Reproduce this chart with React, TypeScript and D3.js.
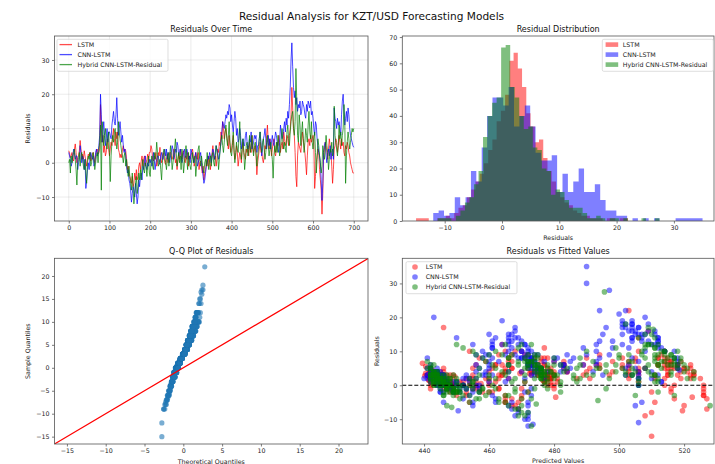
import React, { useEffect, useRef } from "react";
import * as d3 from "d3";

// time index of the residual series (every 2nd step of the 700-step test set)
const timeIndex = d3.range(0, 701, 2);

const lstmResid = [
  3.5, 2.8, 1.5, 2, 3, 1, 0.5, 4, 5.5, 3, 0, 1.5, 2, 3.5, 6.5, 4, 1, 2.5, 1, 3.5, 2, 0.5, -1, 1, 2.5,
  2, 3, 0.5, 1, 2.5, 3, 1.5, 0, 2, 3.5, 4, 2.5, 3, 4, 17, 10, 6, 8, 3, 5, 2, 3, 6, 7, 4,
  2, 4, 6, 5, 8, 10, 7, 5, 9, 7, 9, 4, 3, 1.5, 2.5, 1.5, 4, 5, 3.5, 4, 3.5, 1, -2, -1, -3,
  -4, -5, -6, -4, -7, -6, -3, -5, -2, -5, -4, -1, 0, -2, 0.5, 2, -1, 1, 2, -1, 0, 1, 2.5, 0, 3,
  3, 5, 4, 1, 0.5, 2, 1, 3, -1, 0, 3, 2, 4.5, 1, 0, 2, 3, 2, 0, -0.5, 1, 2.5, 0, 1.5, 3,
  3, 1.5, 1, 2, 4, 3, 0, 1, -2, 0.5, 2.5, 1, 4, 2, 1, 3, 3.5, 1, 0, 2, 1, 3, -1, 2, 1,
  2, 3, 4, 2, -1, 0, 3, 1.5, 1, 3, -2, 0, 0.5, -1, -3, -1, -5, -3, -2, 0, 1, -1, 2, 0, -2,
  1, 3, 5, 2, 1, 2, -1, 1, 4, 3, 6, 5, 9, 7, 12, 10, 7, 9, 10, 8, 6, 4, 8, 5, 3,
  4, 6, 8, 3, 1, 2, 5, 3, -1, 1, 3, 2, 0, 4, 6, 3, 2, 1, 4, 3, 5, 2, 6, 4, 3,
  8, 5, 3, 4, 5, 2, -3.5, 0, 2, 4, 6, 3, 3, 1, 0, 2, 5, 4, 8, 11, 6, 4, 7, 5, 2,
  4, 6, 7, 3, 2, 4, 6, 5, 8, 6, 3, 5, 6, 4, 9, 7, 5, 6, 8, 7, 5, 8, 10, 14, 22,
  16, 10, 8, 3, -4, -7, 2, 6, 5, 4, 3, 6, 9, 7, 5, 3, 0, -3.5, 2, 6, 7, 5, 8, 6, 7,
  8, 6, -7.5, -4, 0, 2, 4, 3, -2, -5, -8, -15, -9, 2, 4, 6, 5, 3, 1, 4, 7, 5, 3, -1, -6,
  -2, 4, 5, 7, 6, 3, 5, 8, 6, 4, 7, 5, 6, 3, 2, 5, 4, 6, 5, 3, 2, 0, -1, -2, -3,
  -3,
];

const cnnResid = [
  3, 2, 1, -1, 0, 2, 4, 3, 1, 2, 2, -2, 0, 1, 5, 3, 0, 2, 1, -2, 1, -7.5, -5, -2, 0,
  -2, 1, 3, 2, 1, 2, -1, 0, 3, 4, 2, 3, 5, 8, 20, 14, 6, 9, 12, 8, 5, 7, 10, 6, 9,
  9, 8, 7, 11, 13, 15, 12, 11, 14, 19, 13, 8, 10, 12, 9, 6, 8, 5, 3, 4, 2, -1, -3, -2, -5,
  -6, -8, -11.5, -9, -7, -8, -10, -6, -9, -12, -10, -5, -7, -4, -3, -5, -1, -2, 0, 2, -1, -2, 0, -1, 1,
  0, 1, -1, 0, 3, 1, -2, 0, 1, 2, 2, 0, -0.5, 2, 3, 1, 1, 3, 4, 2, 4, 1, 3, 2, 0,
  2, 3, 5, 4, 1, 2, 4, 3, 6, 5, 2, 3, 4, 2, 0, 1, 3, 4, 1.5, 2, 4, 3, 1, 2, 0,
  4, 3, 2, 1, 0, 2, 3, 1, -1, 0, 1, 2, 3, 0, -2, -4, -6, -5, -3, -1, 0, 2, 1, 3, 2,
  0, 2, 4, 3, 1, 3, 5, 4, 3, 1, 2, 4, 6, 9, 12, 11, 10, 12, 14, 13, 15, 14, 17, 16, 12,
  14, 11, 9, 12, 15, 13, 8, 10, 6, 7, 10, 8, 4, 6, 7, 5, 5, 8, 9, 6, 4, 5, 7, 6, 9,
  4, 5, 6, 8, 7, 8, 3, 5, 5, 7, 9, 6, 2, 4, 7, 8, 10, 7, 4, 6, 8, 5, 7, 4, 6,
  8, 6, 5, 7, 9, 8, 6, 4, 3, 6, 11, 9, 7, 8, 10, 12, 9, 13, 11, 15, 13, 17, 22, 30, 35,
  28, 22, 19, 21, 17, 19, 15, 17, 16, 18, 14, 15, 18, 17, 16, 14, 13, 17, 15, 18, 17, 16, 18, 14, 15,
  13, 10, 8, 12, 11, 7, 5, 3, 2, 0, -5, -11, -6, 3, 5, 6, 2, 0, 3, 4, 2, 5, 1, 3, 4,
  1, 16, 13, 12, 10, 13, 11, 12, 10, 8, 14, 18, 20, 15, 11, 13, 15, 12, 16, 14, 10, 8, 7, 6, 5,
  4.5,
];

const hybridResid = [
  0, 1, -3, 2, 0, 2, 3, 4, 1, -2, -6.5, 0, 1, 3, -1, 2, 3, 1, -1, -2, 1, -3, -6, 0, 2,
  1, 3, -1, 0, 2, 3, 1, -2, 0, 2, 3, 0, 4, 6, 11, -8, 12, 9, 5, 8, 10, 6, 4, 7, 9,
  3, -5.5, 2, 6, 8, 6, 9, 10, 7, 4, 6, 12, 9, 7, 5, 3, 2, 0, 2, 3, -1, 1, -2, -4, -1,
  -4, -6, -8, -3, -7, -12, -9, -6, -4, -9, -7, -3, -5, -2, -5, -1, 1, -2, -3, 0, -1, -4, 0, 2, -3,
  -4, 0, 2, -1, -2, 3, 1, 2, 6, 3, -1, 0, 1, -2, -5, 0, 3, 4, 2, 0, -2, 1, 3, -1, 2,
  5, 2, -2, 0, 2, 4, 7, 3, -1, 1, 3, 0, 2, -2, 4, 1, -3, 0, 2, 5, 1, -2, 3, 0, -1,
  -2, 1, 3, 0, 1, 2, -4, -1, 2, 4, 5, 1, -1, 2, 0, -2, -3, 0, 1, -1, 3, 0, -2, 1, 2,
  -1, 2, 3, 0, -1, 2, 5, 3, 2, -2, 1, 4, 6, 8, 5, 3, 6, 9, 11, 7, 5, 8, 12, 6, 3,
  2, 5, 9, 4, 0, 3, 6, 4, 3, 7, 12, 5, 1, 4, 7, 3, -2, 1, 5, 6, 2, 4, 8, 3, 5,
  8, 4, 2, 5, 6, 3, -1, 2, 4, 7, 9, 5, 3, 6, 7, 4, 1, 3, 6, 8, 5, 2, 4, 6, 3,
  1, -4.5, 2, 5, 3, 6, 3, 8, 5, 2, 4, 7, 10, 6, 4, 6, 4, 3, 9, 11, 7, 5, 9, 12, 14,
  15, 10, 8, 12, 27.5, 18, 8, 6, 14, 11, 5, 9, 12, 7, 3, 6, 10, 8, 6, 11, 15, 9, 7, 12, 6,
  4, 7, 9, 3, -3, 1, 7, 5, 2, 0, -3, -1, 5, 3, 1, 4, 8, 5, 3, -2, 1, 4, 3, 6, 2,
  3, 16.5, 8, 6, 4, 2, 5, 11, 7, 9, 5, 8, 10, 17, 12, -6, 2, 6, 9, 7, 4, 6, 8, 10, 9,
  10,
];

// observed KZT/USD rate at the same steps (prediction = actual - residual)
const actualRate = [
  444, 443, 443, 444, 445, 445, 446, 447, 446, 444, 442, 443, 444, 445, 446, 446, 445, 444, 446, 447, 446, 443, 441, 443, 444,
  444, 445, 444, 446, 445, 447, 448, 446, 445, 447, 447, 446, 447, 449, 463, 464, 462, 465, 467, 466, 465, 467, 468, 466, 469,
  468, 469, 470, 472, 474, 475, 473, 472, 476, 483, 480, 477, 476, 478, 480, 479, 478, 477, 476, 474, 473, 472, 470, 469, 467,
  466, 464, 462, 463, 462, 461, 462, 460, 459, 460, 461, 462, 460, 458, 458, 457, 456, 455, 456, 455, 454, 453, 452, 452, 451,
  452, 451, 450, 450, 449, 450, 449, 450, 448, 448, 449, 448, 447, 448, 449, 448, 447, 448, 449, 448, 447, 448, 449, 448, 447,
  447, 448, 449, 448, 446, 447, 448, 447, 448, 447, 446, 447, 448, 447, 446, 445, 446, 447, 446, 447, 446, 445, 446, 447, 446,
  448, 447, 446, 447, 445, 446, 447, 446, 447, 448, 446, 447, 448, 447, 447, 448, 449, 450, 451, 452, 452, 454, 455, 456, 456,
  457, 458, 460, 461, 461, 462, 462, 463, 464, 466, 468, 470, 472, 474, 476, 478, 480, 481, 480, 479, 481, 483, 485, 484, 483,
  482, 483, 484, 483, 482, 483, 481, 480, 479, 480, 482, 481, 479, 478, 479, 481, 480, 478, 477, 478, 480, 481, 479, 480, 481,
  482, 480, 478, 479, 481, 480, 477, 478, 479, 481, 483, 481, 479, 478, 480, 481, 483, 484, 486, 488, 489, 488, 487, 488, 489,
  488, 489, 490, 492, 493, 494, 495, 496, 498, 499, 500, 499, 500, 502, 503, 505, 506, 507, 509, 510, 511, 513, 516, 520, 525,
  525, 524, 523, 521, 523, 520, 516, 518, 520, 519, 518, 520, 522, 521, 519, 518, 517, 519, 521, 522, 523, 521, 520, 521, 522,
  520, 518, 512, 513, 514, 513, 510, 509, 508, 506, 502, 495, 499, 505, 507, 509, 508, 506, 507, 510, 512, 513, 514, 515, 514,
  514, 527, 525, 523, 524, 525, 523, 522, 524, 525, 526, 527, 528, 526, 524, 522, 523, 524, 525, 526, 527, 526, 525, 524, 523,
  523,
];

// histogram counts (50 bins each)
const lstmHistStart = -15;
const lstmHistWidth = 0.74;
const lstmHistCounts = [
  1, 1, 1, 0, 0, 1, 1, 2, 1, 3,
  5, 6, 9, 12, 15, 18, 22, 27, 31, 38,
  42, 48, 61, 64, 58, 51, 41, 36, 30, 31,
  24, 19, 15, 11, 9, 7, 6, 4, 3, 2,
  2, 1, 1, 1, 0, 1, 1, 0, 1, 1,
];
const cnnHistStart = -12;
const cnnHistWidth = 0.94;
const cnnHistCounts = [
  3, 4, 2, 3, 9, 6, 9, 19, 15, 28,
  40, 47, 47, 44, 51, 36, 40, 44, 36, 26,
  23, 23, 25, 11, 18, 11, 15, 20, 11, 11,
  14, 8, 4, 4, 2, 2, 0, 1, 0, 1,
  0, 1, 0, 0, 0, 1, 1, 1, 1, 1,
];
const hybridHistStart = -12;
const hybridHistWidth = 0.79;
const hybridHistCounts = [
  0, 1, 1, 1, 0, 2, 4, 7, 9, 14,
  19, 32, 40, 45, 47, 66, 67, 51, 47, 40,
  35, 36, 28, 27, 20, 19, 10, 12, 11, 8,
  5, 5, 5, 3, 1, 1, 2, 1, 0, 1,
  1, 0, 1, 0, 0, 0, 1, 0, 0, 1,
];

const modelNames = ["LSTM", "CNN-LSTM", "Hybrid CNN-LSTM-Residual"];
const modelColors = ["red", "blue", "green"];
const residSeries = [lstmResid, cnnResid, hybridResid];
const histStarts = [lstmHistStart, cnnHistStart, hybridHistStart];
const histWidths = [lstmHistWidth, cnnHistWidth, hybridHistWidth];
const histCounts = [lstmHistCounts, cnnHistCounts, hybridHistCounts];

const tsXTicks = [0, 100, 200, 300, 400, 500, 600, 700];
const tsYTicks = [-10, 0, 10, 20, 30];
const histXTicks = [-10, 0, 10, 20, 30];
const histYTicks = [0, 10, 20, 30, 40, 50, 60, 70];
const qqTicks = [-15, -10, -5, 0, 5, 10, 15, 20];
const scXTicks = [440, 460, 480, 500, 520];
const scYTicks = [-10, 0, 10, 20, 30];

const W = 715;
const H = 464;
const FONT = "DejaVu Sans";
const TICK_FS = 6.3;

// Acklam's inverse normal CDF, used for the theoretical quantiles
function normInv(p: number): number {
  const a = [-39.69683028665376, 220.9460984245205, -275.9285104469687, 138.357751867269, -30.66479806614716, 2.506628277459239];
  const b = [-54.47609879822406, 161.5858368580409, -155.6989798598866, 66.80131188771972, -13.28068155288572];
  const c = [-0.007784894002430293, -0.3223964580411365, -2.400758277161838, -2.549732539343734, 4.374664141464968, 2.938163982698783];
  const d = [0.007784695709041462, 0.3224671290700398, 2.445134137142996, 3.754408661907416];
  const plow = 0.02425;
  if (p < plow) {
    const q = Math.sqrt(-2 * Math.log(p));
    return (((((c[0] * q + c[1]) * q + c[2]) * q + c[3]) * q + c[4]) * q + c[5]) /
      ((((d[0] * q + d[1]) * q + d[2]) * q + d[3]) * q + 1);
  }
  if (p > 1 - plow) {
    const q = Math.sqrt(-2 * Math.log(1 - p));
    return -(((((c[0] * q + c[1]) * q + c[2]) * q + c[3]) * q + c[4]) * q + c[5]) /
      ((((d[0] * q + d[1]) * q + d[2]) * q + d[3]) * q + 1);
  }
  const q = p - 0.5;
  const r = q * q;
  return (((((a[0] * r + a[1]) * r + a[2]) * r + a[3]) * r + a[4]) * r + a[5]) * q /
    (((((b[0] * r + b[1]) * r + b[2]) * r + b[3]) * r + b[4]) * r + 1);
}

type Box = { l: number; r: number; t: number; b: number };

const App: React.FC = () => {
  const svgRef = useRef<SVGSVGElement>(null);

  useEffect(() => {
    if (!svgRef.current) return;
    const svg = d3.select(svgRef.current);
    svg.selectAll("*").remove();
    svg.attr("font-family", FONT);

    const defs = svg.append("defs");

    const addAxes = (
      box: Box,
      x: d3.ScaleLinear<number, number>,
      y: d3.ScaleLinear<number, number>,
      xTicks: number[],
      yTicks: number[]
    ) => {
      const ax = svg
        .append("g")
        .attr("transform", `translate(0,${box.b})`)
        .call(d3.axisBottom(x).tickValues(xTicks).tickFormat(d3.format("d")).tickSize(2.5).tickPadding(2.5).tickSizeOuter(0));
      const ay = svg
        .append("g")
        .attr("transform", `translate(${box.l},0)`)
        .call(d3.axisLeft(y).tickValues(yTicks).tickFormat(d3.format("d")).tickSize(2.5).tickPadding(2.5).tickSizeOuter(0));
      [ax, ay].forEach((a) => {
        a.attr("font-family", FONT).attr("font-size", TICK_FS);
        a.select(".domain").remove();
        a.selectAll("text").attr("fill", "#222");
        a.selectAll("line").attr("stroke", "#444").attr("stroke-width", 0.7);
      });
    };

    const addFrame = (box: Box) => {
      svg
        .append("rect")
        .attr("x", box.l)
        .attr("y", box.t)
        .attr("width", box.r - box.l)
        .attr("height", box.b - box.t)
        .attr("fill", "none")
        .attr("stroke", "#555")
        .attr("stroke-width", 0.8);
    };

    const addClip = (id: string, box: Box) => {
      defs
        .append("clipPath")
        .attr("id", id)
        .append("rect")
        .attr("x", box.l)
        .attr("y", box.t)
        .attr("width", box.r - box.l)
        .attr("height", box.b - box.t);
    };

    const addTitle = (box: Box, text: string) => {
      svg
        .append("text")
        .attr("x", (box.l + box.r) / 2)
        .attr("y", box.t - 4)
        .attr("text-anchor", "middle")
        .attr("font-size", 8)
        .attr("fill", "#111")
        .text(text);
    };

    const addXLabel = (box: Box, text: string, yPos: number) => {
      svg
        .append("text")
        .attr("x", (box.l + box.r) / 2)
        .attr("y", yPos)
        .attr("text-anchor", "middle")
        .attr("font-size", TICK_FS)
        .attr("fill", "#222")
        .text(text);
    };

    const addYLabel = (box: Box, text: string, xPos: number) => {
      svg
        .append("text")
        .attr("transform", `translate(${xPos},${(box.t + box.b) / 2}) rotate(-90)`)
        .attr("text-anchor", "middle")
        .attr("font-size", TICK_FS)
        .attr("fill", "#222")
        .text(text);
    };

    const addLegend = (
      x0: number,
      y0: number,
      w: number,
      kind: "line" | "patch" | "dot"
    ) => {
      const lg = svg.append("g");
      lg.append("rect")
        .attr("x", x0)
        .attr("y", y0)
        .attr("width", w)
        .attr("height", 32)
        .attr("rx", 1.5)
        .attr("fill", "white")
        .attr("fill-opacity", 0.8)
        .attr("stroke", "#d0d0d0")
        .attr("stroke-width", 0.7);
      modelNames.forEach((name, i) => {
        const cy = y0 + 5.3 + i * 10;
        if (kind === "line") {
          lg.append("line")
            .attr("x1", x0 + 2.5)
            .attr("x2", x0 + 15)
            .attr("y1", cy)
            .attr("y2", cy)
            .attr("stroke", modelColors[i])
            .attr("stroke-opacity", 0.7)
            .attr("stroke-width", 1.3);
        } else if (kind === "patch") {
          lg.append("rect")
            .attr("x", x0 + 3.3)
            .attr("y", cy - 2.3)
            .attr("width", 12.6)
            .attr("height", 4.6)
            .attr("fill", modelColors[i])
            .attr("fill-opacity", 0.5);
        } else {
          lg.append("circle")
            .attr("cx", x0 + 9)
            .attr("cy", cy)
            .attr("r", 2.8)
            .attr("fill", modelColors[i])
            .attr("fill-opacity", 0.5);
        }
        lg.append("text")
          .attr("x", x0 + (kind === "dot" ? 19.7 : 20.5))
          .attr("y", cy)
          .attr("dy", "0.35em")
          .attr("font-size", TICK_FS)
          .attr("fill", "#222")
          .text(name);
      });
    };

    // ---------- suptitle
    svg
      .append("text")
      .attr("x", 371.5)
      .attr("y", 19.8)
      .attr("text-anchor", "middle")
      .attr("font-size", 10.6)
      .attr("fill", "#111")
      .text("Residual Analysis for KZT/USD Forecasting Models");

    // ---------- 1. residuals over time
    const tsBox: Box = { l: 54.5, r: 368, t: 36, b: 221 };
    const tsX = d3.scaleLinear().domain([-35, 735]).range([tsBox.l, tsBox.r]);
    const tsY = d3.scaleLinear().domain([-17, 37]).range([tsBox.b, tsBox.t]);
    addClip("clip-ts", tsBox);
    const grid = svg.append("g").attr("stroke", "#b0b0b0").attr("stroke-opacity", 0.3).attr("stroke-width", 0.8);
    tsXTicks.forEach((v) =>
      grid.append("line").attr("x1", tsX(v)).attr("x2", tsX(v)).attr("y1", tsBox.t).attr("y2", tsBox.b)
    );
    tsYTicks.forEach((v) =>
      grid.append("line").attr("x1", tsBox.l).attr("x2", tsBox.r).attr("y1", tsY(v)).attr("y2", tsY(v))
    );
    const lineGen = (vals: number[]) =>
      d3
        .line<number>()
        .x((_, i) => tsX(timeIndex[i]))
        .y((d) => tsY(d))(vals);
    const tsG = svg.append("g").attr("clip-path", "url(#clip-ts)");
    residSeries.forEach((vals, i) => {
      tsG.append("path")
        .attr("d", lineGen(vals) as string)
        .attr("fill", "none")
        .attr("stroke", modelColors[i])
        .attr("stroke-opacity", 0.7)
        .attr("stroke-width", 1)
        .attr("stroke-linejoin", "round");
    });
    addAxes(tsBox, tsX, tsY, tsXTicks, tsYTicks);
    addFrame(tsBox);
    addTitle(tsBox, "Residuals Over Time");
    addYLabel(tsBox, "Residuals", 30);
    addLegend(57, 39.3, 111, "line");

    // ---------- 2. residual distribution
    const hBox: Box = { l: 402.3, r: 714, t: 36, b: 221 };
    const hX = d3.scaleLinear().domain([-17.4, 37]).range([hBox.l, hBox.r]);
    const hY = d3.scaleLinear().domain([0, 70.4]).range([hBox.b, hBox.t]);
    histCounts.forEach((counts, s) => {
      const p = d3.path();
      counts.forEach((c, k) => {
        if (c <= 0) return;
        const x0 = hX(histStarts[s] + k * histWidths[s]);
        const x1 = hX(histStarts[s] + (k + 1) * histWidths[s]);
        p.rect(x0, hY(c), x1 - x0, hY(0) - hY(c));
      });
      svg.append("path").attr("d", p.toString()).attr("fill", modelColors[s]).attr("fill-opacity", 0.5);
    });
    addAxes(hBox, hX, hY, histXTicks, histYTicks);
    addFrame(hBox);
    addTitle(hBox, "Residual Distribution");
    addXLabel(hBox, "Residuals", 240);
    addLegend(602.3, 39.3, 111, "patch");

    // ---------- 3. Q-Q plot
    const qBox: Box = { l: 54.5, r: 368, t: 258.3, b: 444 };
    const qX = d3.scaleLinear().domain([-16.6, 23.8]).range([qBox.l, qBox.r]);
    const qY = d3.scaleLinear().domain([-16.6, 23.85]).range([qBox.b, qBox.t]);
    addClip("clip-qq", qBox);
    const qG = svg.append("g").attr("clip-path", "url(#clip-qq)");
    [lstmResid, hybridResid].forEach((vals) => {
      const sorted = vals.slice().sort((a, b) => a - b);
      const n = sorted.length;
      sorted.forEach((v, i) => {
        qG.append("circle")
          .attr("cx", qX(normInv((i + 1) / (n + 1))))
          .attr("cy", qY(v))
          .attr("r", 2.6)
          .attr("fill", "#1f77b4")
          .attr("fill-opacity", 0.6);
      });
    });
    qG.append("line")
      .attr("x1", qX(-16.6))
      .attr("y1", qY(-16.6))
      .attr("x2", qX(23.85))
      .attr("y2", qY(23.85))
      .attr("stroke", "red")
      .attr("stroke-width", 1.2);
    addAxes(qBox, qX, qY, qqTicks, qqTicks);
    addFrame(qBox);
    addTitle(qBox, "Q-Q Plot of Residuals");
    addXLabel(qBox, "Theoretical Quantiles", 463.5);
    addYLabel(qBox, "Sample Quantiles", 30);

    // ---------- 4. residuals vs fitted
    const sBox: Box = { l: 402.3, r: 714, t: 258.3, b: 444 };
    const sX = d3.scaleLinear().domain([433.3, 529.2]).range([sBox.l, sBox.r]);
    const sY = d3.scaleLinear().domain([-17.3, 37.4]).range([sBox.b, sBox.t]);
    addClip("clip-sc", sBox);
    const sG = svg.append("g").attr("clip-path", "url(#clip-sc)");
    residSeries.forEach((vals, s) => {
      vals.forEach((v, i) => {
        sG.append("circle")
          .attr("cx", sX(actualRate[i] - v))
          .attr("cy", sY(v))
          .attr("r", 2.8)
          .attr("fill", modelColors[s])
          .attr("fill-opacity", 0.5);
      });
    });
    sG.append("line")
      .attr("x1", sBox.l)
      .attr("x2", sBox.r)
      .attr("y1", sY(0))
      .attr("y2", sY(0))
      .attr("stroke", "black")
      .attr("stroke-width", 1.1)
      .attr("stroke-dasharray", "4,2");
    addAxes(sBox, sX, sY, scXTicks, scYTicks);
    addFrame(sBox);
    addTitle(sBox, "Residuals vs Fitted Values");
    addXLabel(sBox, "Predicted Values", 463);
    addYLabel(sBox, "Residuals", 378.5);
    addLegend(406, 261.7, 111, "dot");
  }, []);

  return (
    <svg
      ref={svgRef}
      width={W}
      height={H}
      style={{ position: "absolute", left: 0, top: 0, background: "white" }}
    />
  );
};

export default App;
